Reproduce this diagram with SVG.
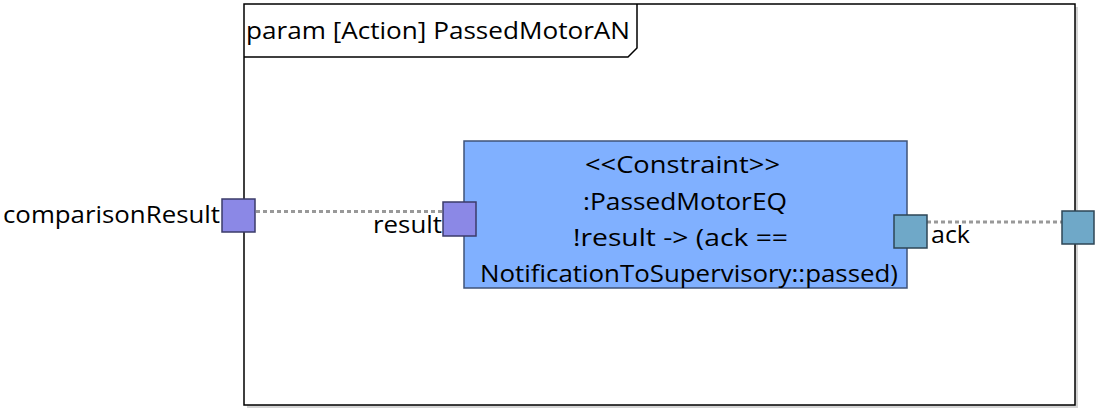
<svg xmlns="http://www.w3.org/2000/svg" width="1101" height="413" viewBox="0 0 1101 413">
<style>
text{font-family:"Open Sans","Liberation Sans",Arial,sans-serif;font-size:24px;fill:#000}
.frame{fill:#fff;stroke:#000;stroke-width:1.5}
.shadow{fill:#d4d4d4}
.port-in{fill:#8b88e6;stroke:#3b3b6a;stroke-width:1.5}
.port-out{fill:#6fa8c8;stroke:#2e4656;stroke-width:1.5}
.conn{stroke:#999;stroke-width:3;stroke-dasharray:4 3;fill:none}
.constraint{fill:#80b0ff;stroke:#3f5378;stroke-width:1.5}
</style>
<rect width="1101" height="413" fill="#fff"/>
<g id="frame">
<rect class="shadow" x="247" y="7" width="831" height="401"/>
<rect class="frame" x="244" y="4" width="831" height="401"/>
<path d="M244,57 H628 L637,48 V4" fill="none" stroke="#000" stroke-width="1.5"/>
<text x="246" y="39" textLength="384" lengthAdjust="spacingAndGlyphs">param [Action] PassedMotorAN</text>
</g>
<g id="connectors">
<line class="conn" x1="256" y1="211.5" x2="443" y2="211.5"/>
<line class="conn" x1="927" y1="222" x2="1062" y2="222"/>
</g>
<g id="constraint">
<rect class="constraint" x="464" y="141" width="443" height="147"/>
<text x="585" y="173" textLength="195" lengthAdjust="spacingAndGlyphs">&lt;&lt;Constraint&gt;&gt;</text>
<text x="583" y="210" textLength="204" lengthAdjust="spacingAndGlyphs">:PassedMotorEQ</text>
<text x="573" y="246" textLength="215" lengthAdjust="spacingAndGlyphs">!result -&gt; (ack ==</text>
<text x="480" y="282" textLength="418" lengthAdjust="spacingAndGlyphs">NotificationToSupervisory::passed)</text>
</g>
<g id="port-comparisonResult">
<rect class="port-in" x="222" y="199" width="33" height="33"/>
<text x="3" y="223" textLength="217" lengthAdjust="spacingAndGlyphs">comparisonResult</text>
</g>
<g id="port-result">
<rect class="port-in" x="443" y="202" width="33" height="34"/>
<text x="373" y="233" textLength="69" lengthAdjust="spacingAndGlyphs">result</text>
</g>
<g id="port-ack">
<rect class="port-out" x="894" y="215" width="33" height="33"/>
<text x="931" y="243" textLength="39" lengthAdjust="spacingAndGlyphs">ack</text>
</g>
<g id="port-ack-outer">
<rect class="port-out" x="1062" y="211" width="32" height="33"/>
</g>
</svg>
